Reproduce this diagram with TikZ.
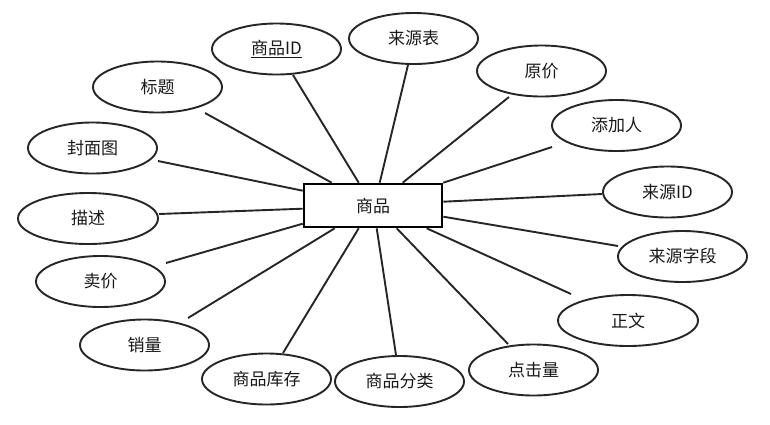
\documentclass[tikz,border=0pt]{standalone}
\usepackage{fontspec}
\setmainfont{Noto Sans CJK SC}
\usetikzlibrary{shapes.geometric}
\begin{document}
\begin{tikzpicture}[x=1pt,y=-1pt,
  attr/.style={ellipse,draw=black!85,line width=1.9pt,minimum width=129pt,minimum height=51pt,inner sep=0pt,text=black!90,font=\fontsize{17}{19}\selectfont},
  ent/.style={rectangle,draw=black,line width=2.6pt,minimum width=138pt,minimum height=43pt,inner sep=0pt,text=black!90,font=\fontsize{17}{19}\selectfont},
  conn/.style={draw=black!85,line width=1.9pt}]
\useasboundingbox[fill=white] (0,0) rectangle (770,424);
\node[ent] (e) at (373,205.5) {商品};
\node[attr] (id) at (276.5,49) {\underline{商品ID}};
\node[attr] (bt) at (157.5,87) {标题};
\node[attr] (fm) at (92.5,148) {封面图};
\node[attr,minimum width=140pt] (ms) at (88,218.5) {描述};
\node[attr] (mj) at (100.5,281.5) {卖价};
\node[attr] (xl) at (144.5,345) {销量};
\node[attr] (kc) at (266.5,379) {商品库存};
\node[attr] (fl) at (399.5,381.5) {商品分类};
\node[attr] (dj) at (533.5,370) {点击量};
\node[attr,minimum width=140pt] (zw) at (628,320.5) {正文};
\node[attr] (zd) at (682.5,256.5) {来源字段};
\node[attr] (ly) at (667.5,192) {来源ID};
\node[attr] (tj) at (616.5,125.5) {添加人};
\node[attr] (yj) at (541.5,71) {原价};
\node[attr] (lb) at (413.5,38.5) {来源表};
% free ends of connectors
\coordinate (cid) at (293,75);
\coordinate (cbt) at (205,113);
\coordinate (cfm) at (158,161);
\coordinate (cms) at (159,214);
\coordinate (cmj) at (166,263);
\coordinate (cxl) at (188,318);
\coordinate (ckc) at (283,353);
\coordinate (cfl) at (396,355);
\coordinate (cdj) at (508,344);
\coordinate (czw) at (571,294);
\coordinate (czd) at (618,246);
\coordinate (cly) at (602,194);
\coordinate (ctj) at (552,147);
\coordinate (cyj) at (509,97);
\coordinate (clb) at (408,65);
\draw[conn] ([xshift=56pt]e.north west) -- (cid);
\draw[conn] ([xshift=29pt]e.north west) -- (cbt);
\draw[conn] ([yshift=-8pt]e.north west) -- (cfm);
\draw[conn] ([yshift=-26pt]e.north west) -- (cms);
\draw[conn] ([yshift=-41pt]e.north west) -- (cmj);
\draw[conn] ([xshift=32pt]e.south west) -- (cxl);
\draw[conn] ([xshift=56pt]e.south west) -- (ckc);
\draw[conn] ([xshift=74pt]e.south west) -- (cfl);
\draw[conn] ([xshift=94pt]e.south west) -- (cdj);
\draw[conn] ([xshift=124pt]e.south west) -- (czw);
\draw[conn] ([yshift=-34pt]e.north east) -- (czd);
\draw[conn] ([yshift=-19pt]e.north east) -- (cly);
\draw[conn] (e.north east) -- (ctj);
\draw[conn] ([xshift=100pt]e.north west) -- (cyj);
\draw[conn] ([xshift=77pt]e.north west) -- (clb);
\end{tikzpicture}
\end{document}
